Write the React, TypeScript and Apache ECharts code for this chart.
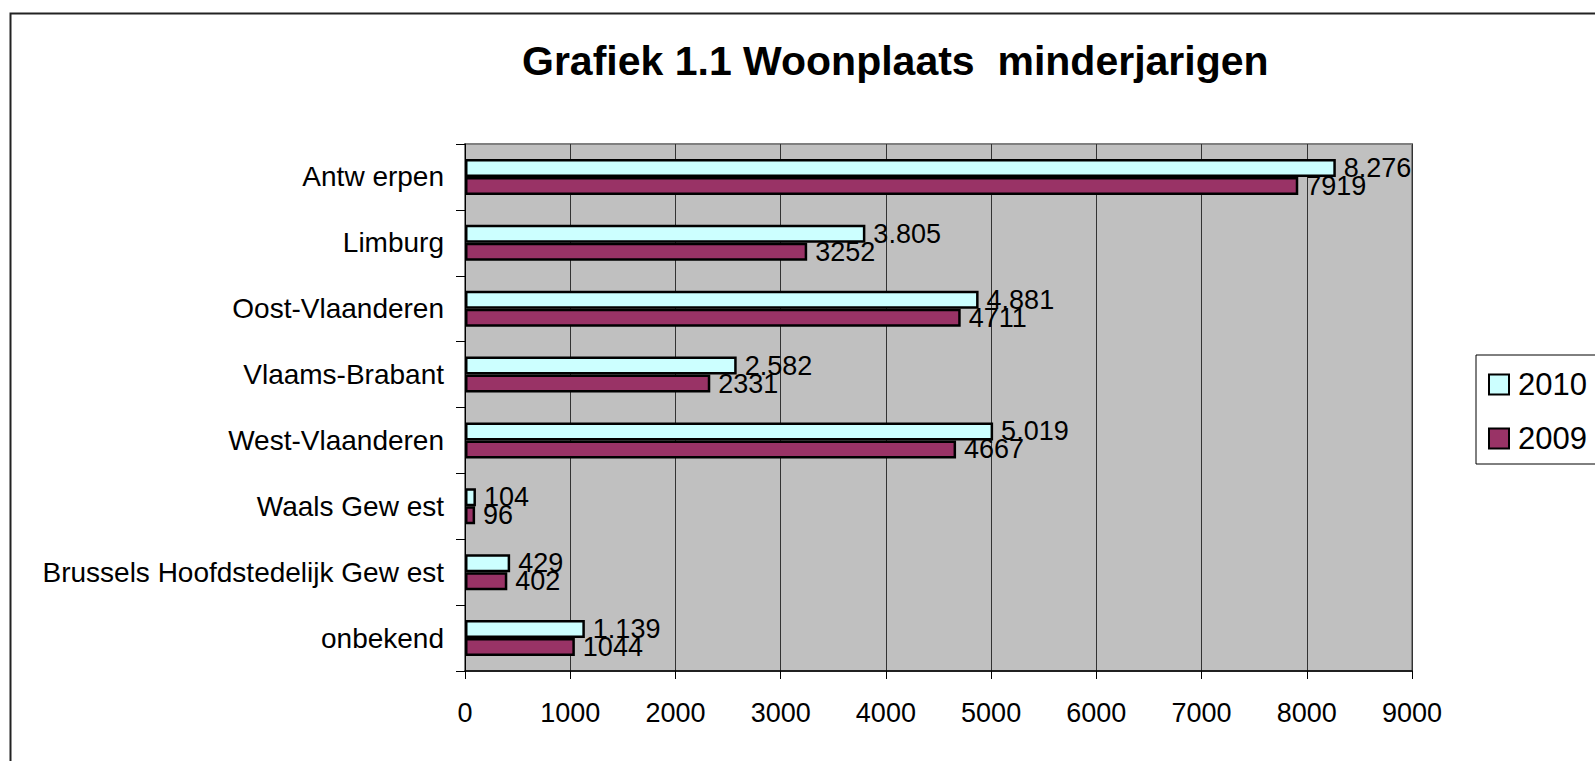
import React, { useEffect, useRef } from "react";
import * as echarts from "echarts";

const title = "Grafiek 1.1 Woonplaats  minderjarigen";
const categories = [
  "Antw erpen",
  "Limburg",
  "Oost-Vlaanderen",
  "Vlaams-Brabant",
  "West-Vlaanderen",
  "Waals Gew est",
  "Brussels Hoofdstedelijk Gew est",
  "onbekend",
];
const seriesNames = ["2010", "2009"];
const values2010 = [8276, 3805, 4881, 2582, 5019, 104, 429, 1139];
const values2009 = [7919, 3252, 4711, 2331, 4667, 96, 402, 1044];
const xMin = 0;
const xMax = 9000;
const xInterval = 1000;

const FONT = "'Liberation Sans', Arial, sans-serif";

function dotThousands(v: number): string {
  return String(v).replace(/\B(?=(\d{3})+(?!\d))/g, ".");
}

export default function App() {
  const ref = useRef<HTMLDivElement>(null);
  useEffect(() => {
    if (!ref.current) return;
    const chart = echarts.init(ref.current, null, { renderer: "svg" });
    const labelCommon = {
      show: true,
      position: "right" as const,
      distance: 8,
      color: "#000",
      fontSize: 27,
      fontFamily: FONT,
    };
    chart.setOption({
      animation: false,
      backgroundColor: "#ffffff",
      textStyle: { fontFamily: FONT },
      title: {
        text: title,
        left: 522,
        top: 40,
        padding: 0,
        textStyle: {
          fontSize: 41,
          fontWeight: "bold",
          color: "#000",
          fontFamily: FONT,
          lineHeight: 41,
        },
      },
      legend: {
        orient: "vertical",
        left: 1476,
        top: 355,
        padding: [14, 200, 10, 12],
        itemGap: 23,
        itemWidth: 20,
        itemHeight: 20,
        icon: "rect",
        borderColor: "#000",
        borderWidth: 1,
        backgroundColor: "#fff",
        data: seriesNames,
        textStyle: {
          fontSize: 31,
          lineHeight: 31,
          color: "#000",
          fontFamily: FONT,
          padding: [0, 0, 0, 4],
        },
      },
      graphic: [
        {
          type: "rect",
          left: 8,
          top: 11,
          shape: { x: 0, y: 0, width: 1700, height: 900 },
          style: { fill: "none", stroke: "#222", lineWidth: 2 },
          silent: true,
          z: -10,
        },
      ],
      grid: {
        left: 465,
        top: 144,
        width: 947,
        height: 527,
        show: true,
        backgroundColor: "#C0C0C0",
        borderColor: "#808080",
        borderWidth: 2,
      },
      xAxis: {
        type: "value",
        min: xMin,
        max: xMax,
        interval: xInterval,
        axisLine: { show: true, lineStyle: { color: "#000", width: 1.5 } },
        axisTick: { show: true, length: 8, lineStyle: { color: "#000" } },
        splitLine: { show: true, lineStyle: { color: "#333", width: 1 } },
        axisLabel: {
          color: "#000",
          fontSize: 27,
          lineHeight: 28,
          margin: 28,
          fontFamily: FONT,
          formatter: (v: number) => String(v),
        },
      },
      yAxis: {
        type: "category",
        inverse: true,
        data: categories,
        axisLine: { show: true, lineStyle: { color: "#000", width: 1 } },
        axisTick: { show: true, length: 9, lineStyle: { color: "#000" } },
        axisLabel: {
          color: "#000",
          fontSize: 28,
          margin: 21,
          fontFamily: FONT,
        },
      },
      series: [
        {
          name: seriesNames[0],
          type: "bar",
          data: values2010,
          barWidth: 18,
          barGap: "0%",
          itemStyle: { color: "#CCFFFF", borderColor: "#000", borderWidth: 2.5 },
          label: {
            ...labelCommon,
            formatter: (p: any) => dotThousands(p.value),
          },
        },
        {
          name: seriesNames[1],
          type: "bar",
          data: values2009,
          barWidth: 18,
          barGap: "0%",
          itemStyle: { color: "#993366", borderColor: "#000", borderWidth: 2.5 },
          label: {
            ...labelCommon,
            formatter: (p: any) => String(p.value),
          },
        },
      ],
    });
    return () => chart.dispose();
  }, []);
  return (
    <div
      ref={ref}
      style={{
        position: "fixed",
        left: 0,
        top: 0,
        width: 1595,
        height: 761,
        background: "#fff",
      }}
    />
  );
}
